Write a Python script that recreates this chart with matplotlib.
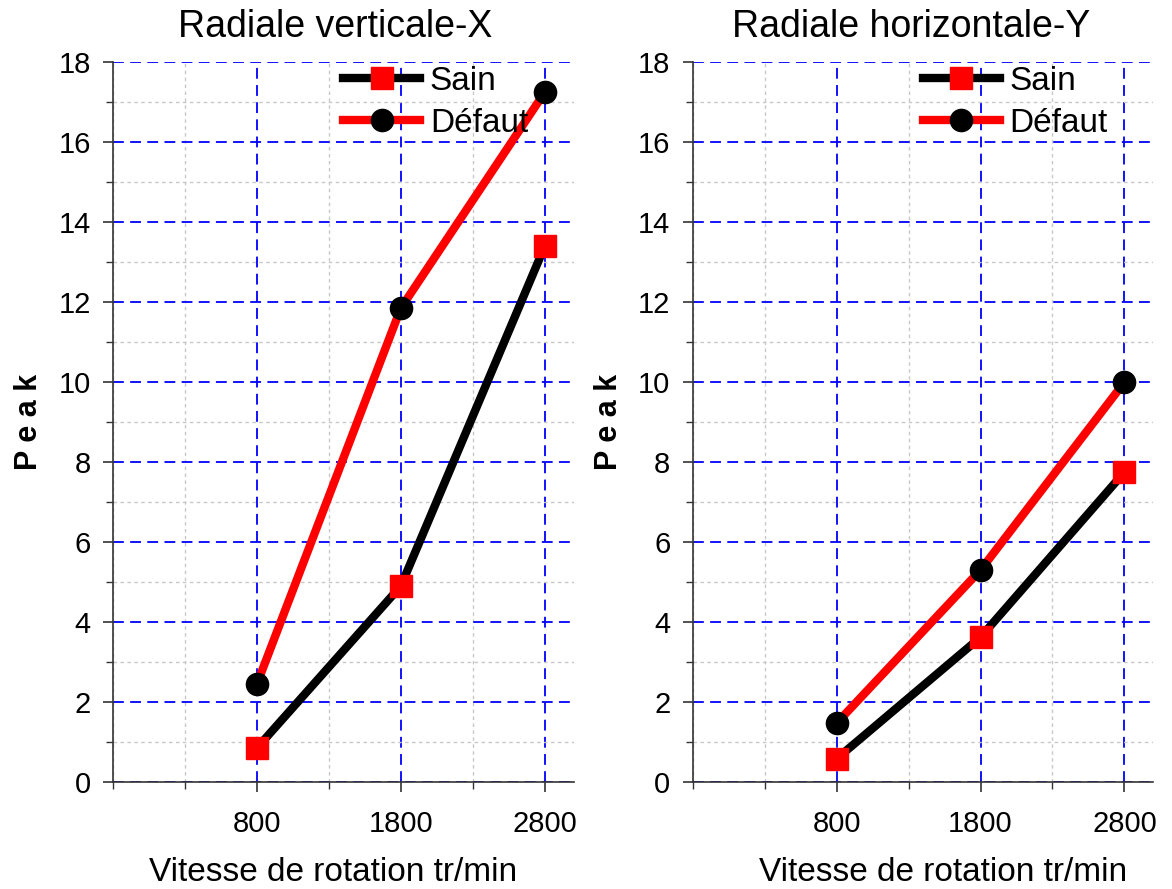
import matplotlib
matplotlib.use("Agg")
import matplotlib.pyplot as plt
from matplotlib.ticker import FixedLocator

plt.rcParams['font.family'] = ['Liberation Sans', 'DejaVu Sans']

speeds = [800, 1800, 2800]
titles = ["Radiale verticale-X", "Radiale horizontale-Y"]
sain_x = [0.85, 4.9, 13.4]
defaut_x = [2.45, 11.85, 17.25]
sain_y = [0.58, 3.62, 7.75]
defaut_y = [1.47, 5.3, 10.0]
series = [(sain_x, defaut_x), (sain_y, defaut_y)]

fig = plt.figure(figsize=(11.72, 8.89), dpi=100)
lefts = [0.0964, 0.591]
title_x = [0.483, 0.474]
xlabel_x = [0.478, 0.543]
for i, (sain, defaut) in enumerate(series):
    ax = fig.add_axes([lefts[i], 0.1204, 0.393, 0.8096])
    ax.plot(speeds, sain, color='black', lw=6, marker='s', ms=15.5,
            mfc='red', mec='red', label='Sain', zorder=3)
    ax.plot(speeds, defaut, color='red', lw=6, marker='o', ms=16,
            mfc='black', mec='black', label='Défaut', zorder=3)
    ax.set_xlim(-200, 3000)
    ax.set_ylim(0, 18)
    ax.xaxis.set_major_locator(FixedLocator(speeds))
    ax.xaxis.set_minor_locator(FixedLocator([-200, 300, 1300, 2300]))
    ax.yaxis.set_major_locator(FixedLocator(list(range(0, 19, 2))))
    ax.yaxis.set_minor_locator(FixedLocator(list(range(1, 18, 2))))
    ax.grid(which='major', color='blue', ls=(0, (6, 3.5)), lw=1.3)
    ax.grid(which='minor', color='#c8c8c8', ls=(0, (2.5, 2.5)), lw=1.0)
    ax.set_axisbelow(True)
    for s in ['top', 'right']:
        ax.spines[s].set_visible(False)
    for s in ['left', 'bottom']:
        ax.spines[s].set_color('#333333')
        ax.spines[s].set_linewidth(1.2)
    ax.tick_params(which='major', direction='out', length=7, width=1.2,
                   labelsize=21, colors='#333333', labelcolor='black')
    ax.tick_params(axis='x', which='major', pad=13)
    ax.tick_params(axis='y', which='major', pad=9)
    ax.tick_params(which='minor', direction='out', length=5, width=1.0,
                   colors='#333333')
    ax.set_title(titles[i], fontsize=27, pad=18, x=title_x[i])
    ax.set_xlabel('Vitesse de rotation tr/min', fontsize=24, labelpad=14)
    ax.xaxis.label.set_x(xlabel_x[i])
    ax.set_ylabel('P e a k', fontsize=22, fontweight='bold', labelpad=10)
    ax.legend(loc='upper left', frameon=False, fontsize=24,
              handlelength=2.3, handletextpad=0.3, labelspacing=0.33,
              borderpad=0, borderaxespad=0, bbox_to_anchor=(0.5, 0.995))

fig.savefig('out.png', dpi=100)
